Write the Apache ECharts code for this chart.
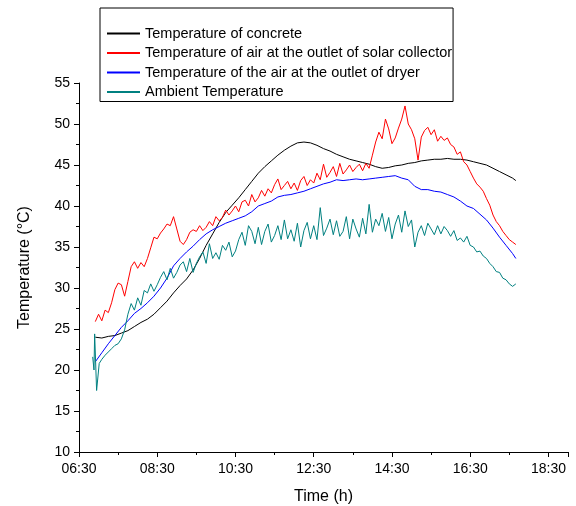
<!DOCTYPE html>
<html>
<head>
  <meta charset="utf-8">
  <title>Temperature</title>
  <script src="https://cdn.jsdelivr.net/npm/echarts@6/dist/echarts.min.js"></script>
  <style>
    html, body { margin: 0; padding: 0; background: #fff; }
    #chart { width: 576px; height: 506px; }
  </style>
</head>
<body>
<div id="chart"></div>
<script>
  // minutes after 06:30
  var minutesCoarse = [25, 35, 45, 55, 65, 75, 85, 95, 105, 115, 125, 135, 145, 155, 165, 175, 185, 195, 205, 215,
    225, 235, 245, 255, 265, 275, 285, 295, 305, 315, 325, 335, 345, 355, 365, 375, 385, 395, 405, 415,
    425, 435, 445, 455, 465, 475, 485, 495, 505, 515, 525, 535, 545, 555, 565, 575, 585, 595, 605, 615,
    625, 635, 645, 655, 665, 670];
  var minutesFine = [25, 30, 35, 40, 45, 50, 55, 60, 65, 70, 75, 80, 85, 90, 95, 100, 105, 110, 115, 120,
    125, 130, 135, 140, 145, 150, 155, 160, 165, 170, 175, 180, 185, 190, 195, 200, 205, 210, 215, 220,
    225, 230, 235, 240, 245, 250, 255, 260, 265, 270, 275, 280, 285, 290, 295, 300, 305, 310, 315, 320,
    325, 330, 335, 340, 345, 350, 355, 360, 365, 370, 375, 380, 385, 390, 395, 400, 405, 410, 415, 420,
    425, 430, 435, 440, 445, 450, 455, 460, 465, 470, 475, 480, 485, 490, 495, 500, 505, 510, 515, 520,
    525, 530, 535, 540, 545, 550, 555, 560, 565, 570, 575, 580, 585, 590, 595, 600, 605, 610, 615, 620,
    625, 630, 635, 640, 645, 650, 655, 660, 665, 670];
  var minutesAmbient = [21, 23, 24, 27, 29, 31, 35, 40, 45, 50, 55, 60, 65, 70, 75, 80, 85, 90, 95, 100, 105, 110, 115, 120,
    125, 130, 135, 140, 145, 150, 155, 160, 165, 170, 175, 180, 185, 190, 195, 200, 205, 210, 215, 220,
    225, 230, 235, 240, 245, 250, 255, 260, 265, 270, 275, 280, 285, 290, 295, 300, 305, 310, 315, 320,
    325, 330, 335, 340, 345, 350, 355, 360, 365, 370, 375, 380, 385, 390, 395, 400, 405, 410, 415, 420,
    425, 430, 435, 440, 445, 450, 455, 460, 465, 470, 475, 480, 485, 490, 495, 500, 505, 510, 515, 520,
    525, 530, 535, 540, 545, 550, 555, 560, 565, 570, 575, 580, 585, 590, 595, 600, 605, 610, 615, 620,
    625, 630, 635, 640, 645, 650, 655, 660, 665, 670];

  var concrete = [24.0, 23.9, 24.1, 24.2, 24.5, 24.8, 25.3, 25.8, 26.2, 26.8, 27.6, 28.4, 29.4, 30.3, 31.1, 32.2, 33.6, 35.2, 36.6, 38.0,
    39.2, 40.1, 41.0, 42.0, 43.0, 44.0, 44.8, 45.5, 46.2, 46.8, 47.3, 47.7, 47.8, 47.7, 47.4, 47.0, 46.7, 46.3, 46.0, 45.7,
    45.5, 45.3, 45.1, 44.8, 44.6, 44.7, 44.9, 45.0, 45.2, 45.3, 45.5, 45.6, 45.7, 45.7, 45.8, 45.7, 45.7, 45.6, 45.4, 45.2,
    45.0, 44.6, 44.2, 43.8, 43.4, 43.1];
  var dryerOutlet = [21.0, 22.1, 23.2, 24.2, 25.2, 26.0, 26.9, 27.5, 28.2, 29.0, 30.0, 31.2, 32.7, 33.6, 34.4, 35.1, 35.9, 36.6, 37.1, 37.5,
    37.9, 38.2, 38.5, 38.8, 39.3, 40.0, 40.3, 40.6, 41.1, 41.3, 41.4, 41.6, 41.8, 42.1, 42.4, 42.7, 42.9, 43.2, 43.1, 43.2,
    43.3, 43.2, 43.3, 43.4, 43.5, 43.6, 43.7, 43.4, 43.2, 42.4, 42.0, 42.0, 41.8, 41.7, 41.4, 41.1, 40.6, 40.0, 39.7, 39.0,
    38.3, 37.3, 36.2, 35.2, 34.2, 33.6];
  var collectorOutlet = [25.9, 26.8, 26.0, 27.3, 27.0, 28.2, 29.8, 30.6, 30.4, 29.0,
    30.8, 32.6, 33.2, 32.4, 33.1, 32.6, 33.6, 34.9, 36.2, 36.0,
    36.7, 37.2, 37.8, 37.6, 38.7, 37.2, 35.7, 35.3, 35.9, 36.8,
    37.1, 36.9, 37.6, 37.0, 37.4, 38.1, 37.6, 38.7, 38.2, 38.6,
    39.5, 38.9, 39.4, 40.0, 39.3, 40.5, 40.7, 40.0, 41.4, 40.5,
    41.0, 41.9, 41.2, 42.1, 41.6, 42.6, 43.3, 42.0, 42.5, 43.0,
    42.1, 42.8, 41.9, 43.1, 43.6, 42.5, 43.2, 42.8, 44.0, 43.2,
    45.1, 43.5, 44.1, 44.8, 43.6, 45.2, 43.9, 44.4, 45.0, 44.2,
    44.7, 45.1, 44.3, 45.2, 44.6, 46.2, 47.8, 49.0, 48.2, 50.6,
    49.4, 47.6, 48.3, 49.5, 50.6, 52.2, 50.0, 49.3, 48.2, 45.6,
    48.4, 49.2, 49.6, 48.7, 49.3, 47.9, 48.5, 48.0, 48.3, 47.5,
    47.2, 46.3, 46.6, 45.4, 45.0, 44.2, 43.4, 42.7, 42.3, 41.8,
    40.9, 40.1, 38.9, 38.1, 37.6, 36.9, 36.4, 35.9, 35.6, 35.3];
  var ambient = [21.6, 20.0, 24.4, 17.5, 17.5, 20.8,
    21.3, 21.8, 22.2, 22.6, 23.0, 23.2, 23.8, 24.9, 26.8, 28.1,
    27.3, 28.8, 27.9, 29.7, 29.4, 30.5, 29.6, 30.4, 31.3, 32.0,
    31.0, 32.4, 31.2, 31.9, 32.8, 33.2, 32.0, 33.6, 31.9, 33.0,
    33.8, 34.4, 33.0, 35.4, 33.6, 34.3, 33.5, 35.2, 34.6, 35.6,
    33.8, 34.5, 35.9, 36.8, 35.2, 37.6, 36.9, 35.4, 37.4, 35.3,
    36.9, 37.8, 35.6, 36.4, 37.6, 35.9, 38.3, 36.0, 37.1, 35.7,
    37.9, 35.0, 37.0, 38.0, 36.0, 37.6, 35.9, 39.8, 36.4, 37.3,
    38.4, 36.5, 38.2, 36.3, 36.9, 38.7, 36.0, 38.4, 37.2, 36.2,
    38.5, 36.6, 40.2, 36.8, 38.4, 37.6, 39.1, 36.9, 38.6, 36.0,
    37.8, 38.9, 36.8, 39.4, 37.5, 38.3, 35.0, 36.8, 37.6, 36.4,
    37.9, 37.2, 36.5, 37.6, 36.6, 37.5, 37.0, 36.3, 37.0, 35.8,
    36.1, 35.6, 36.3, 35.2, 35.0, 34.4, 34.5, 33.9, 33.6, 33.0,
    32.6, 32.0, 31.9, 31.2, 31.0, 30.5, 30.2, 30.5];

  var seriesNames = [
    'Temperature of concrete',
    'Temperature of air at the outlet of solar collector',
    'Temperature of the air at the outlet of dryer',
    'Ambient Temperature'
  ];

  function pairs(xs, ys) {
    return xs.map(function (t, i) { return [t, ys[i]]; });
  }

  function clock(v) {
    var total = 390 + v;
    var h = Math.floor(total / 60), m = total % 60;
    return (h < 10 ? '0' : '') + h + ':' + (m < 10 ? '0' : '') + m;
  }

  var font = 'Liberation Sans';
  var chart = echarts.init(document.getElementById('chart'));

  function line(name, data, color) {
    return {
      name: name,
      type: 'line',
      data: data,
      showSymbol: false,
      symbol: 'none',
      lineStyle: { color: color, width: 1 },
      itemStyle: { color: color },
      emphasis: { disabled: true }
    };
  }

  chart.setOption({
    animation: false,
    backgroundColor: '#fff',
    grid: { left: 79, top: 83, right: 8, bottom: 54, outerBoundsMode: 'none' },
    legend: {
      data: seriesNames,
      orient: 'vertical',
      left: 100,
      top: 8,
      padding: [18, 1, 2, 7],
      itemGap: 4.5,
      itemWidth: 33,
      itemHeight: 2,
      icon: 'rect',
      borderColor: '#000',
      borderWidth: 1,
      backgroundColor: '#fff',
      textStyle: { fontFamily: font, fontSize: 14.5, color: '#000' }
    },
    xAxis: {
      type: 'value',
      min: 0,
      max: 750,
      interval: 120,
      name: 'Time (h)',
      nameLocation: 'middle',
      nameGap: 37,
      nameTextStyle: { fontFamily: font, fontSize: 16, color: '#000' },
      axisLine: { lineStyle: { color: '#000', width: 1 } },
      axisTick: { inside: false, length: 5, lineStyle: { color: '#000' } },
      minorTick: { show: true, splitNumber: 2, length: 3, lineStyle: { color: '#000' } },
      splitLine: { show: false },
      axisLabel: { fontFamily: font, fontSize: 14, color: '#000', margin: 10, formatter: clock, showMaxLabel: false }
    },
    yAxis: {
      type: 'value',
      min: 10,
      max: 55,
      interval: 5,
      name: 'Temperature (°C)',
      nameLocation: 'middle',
      nameGap: 46,
      nameTextStyle: { fontFamily: font, fontSize: 16, color: '#000' },
      axisLine: { show: true, lineStyle: { color: '#000', width: 1 } },
      axisTick: { show: true, inside: false, length: 5, lineStyle: { color: '#000' } },
      minorTick: { show: true, splitNumber: 2, length: 3, lineStyle: { color: '#000' } },
      splitLine: { show: false },
      axisLabel: { fontFamily: font, fontSize: 14, color: '#000', margin: 9 }
    },
    series: [
      line(seriesNames[0], pairs(minutesCoarse, concrete), '#000000'),
      line(seriesNames[1], pairs(minutesFine, collectorOutlet), '#ff0000'),
      line(seriesNames[2], pairs(minutesCoarse, dryerOutlet), '#0000ff'),
      line(seriesNames[3], pairs(minutesAmbient, ambient), '#008080')
    ]
  });
</script>
</body>
</html>
